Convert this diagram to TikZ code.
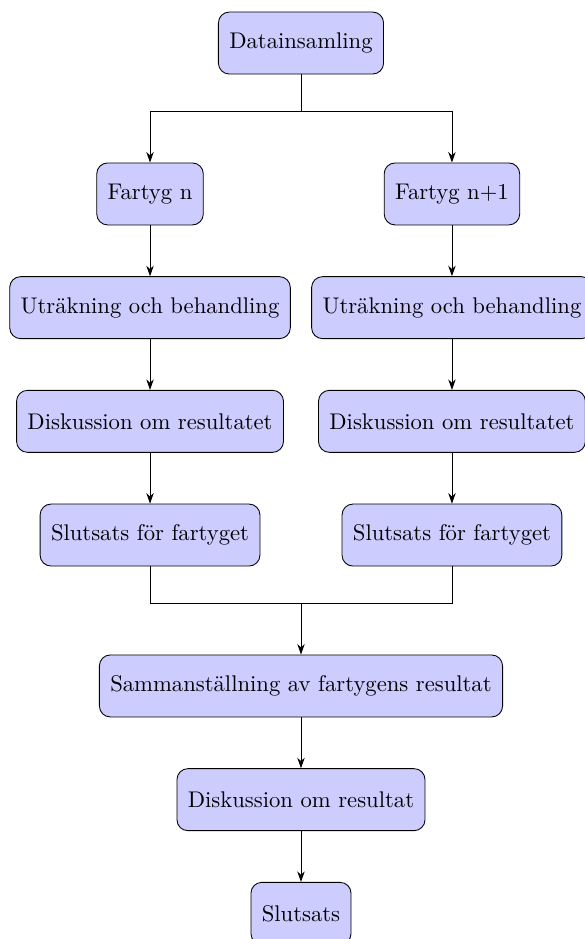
\documentclass[tikz,border=0pt]{standalone}
\usepackage{tikz}
\usetikzlibrary{arrows.meta,positioning}

\begin{document}
\begin{tikzpicture}[node distance=0.82cm,
 box/.style={draw=black,fill=blue!20,rounded corners=5pt,align=center,font=\fontsize{10.4pt}{12.5pt}\selectfont,minimum height=1cm,inner xsep=5pt},
 arr/.style={-{Stealth[length=1.7mm,width=1.2mm]},draw=black,line width=.4pt}]
\useasboundingbox (-4.855,-14.452) rectangle (4.581,0.694);
\node[box] (data) {Datainsamling};
\node[box,below=1.42cm of data,xshift=-2.435cm] (fn) {Fartyg n};
\node[box,below=1.42cm of data,xshift=2.435cm] (fm) {Fartyg n+1};
\node[box,below=of fn] (calcn) {Uträkning och behandling};
\node[box,below=of fm] (calcm) {Uträkning och behandling};
\node[box,below=of calcn] (diskn) {Diskussion om resultatet};
\node[box,below=of calcm] (diskm) {Diskussion om resultatet};
\node[box,below=of diskn] (slutn) {Slutsats för fartyget};
\node[box,below=of diskm] (slutm) {Slutsats för fartyget};
\node[box,below=1.42cm of slutn,xshift=2.435cm] (samm) {Sammanställning av fartygens resultat};
\node[box,below=of samm] (disk) {Diskussion om resultat};
\node[box,below=of disk] (slut) {Slutsats};
\coordinate[below=0.6cm of data] (split);
\coordinate[below=0.6cm of slutn,xshift=2.435cm] (merge);
\draw (data.south)--(split);
\draw[arr] (split)-|(fn);\draw[arr] (split)-|(fm);
\draw[arr] (fn)--(calcn);\draw[arr] (calcn)--(diskn);\draw[arr] (diskn)--(slutn);
\draw[arr] (fm)--(calcm);\draw[arr] (calcm)--(diskm);\draw[arr] (diskm)--(slutm);
\draw (slutn.south)|-(merge);\draw (slutm.south)|-(merge);
\draw[arr] (merge)--(samm);
\draw[arr] (samm)--(disk);\draw[arr] (disk)--(slut);
\end{tikzpicture}
\end{document}
